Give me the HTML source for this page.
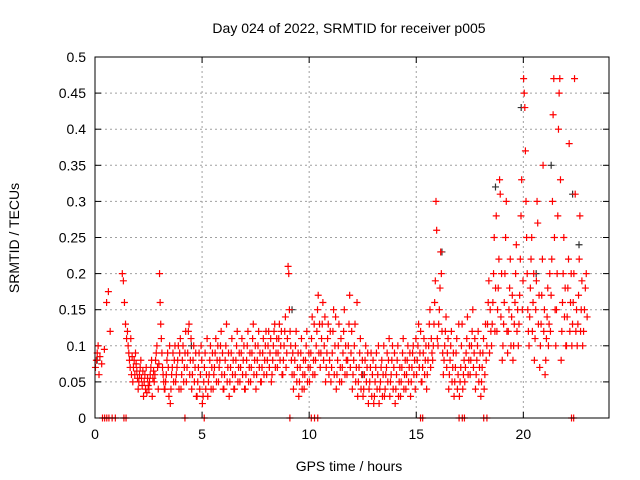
<!DOCTYPE html>
<html><head><meta charset="utf-8"><style>
body{margin:0;background:#fff;}
svg{display:block;font-family:"Liberation Sans",sans-serif;}
</style></head><body>
<svg id="chart" width="640" height="480">
<text x="349" y="33" text-anchor="middle" font-size="14">Day 024 of 2022, SRMTID for receiver p005</text>
<text x="349" y="471" text-anchor="middle" font-size="14">GPS time / hours</text>
<text transform="translate(19,238) rotate(-90)" text-anchor="middle" font-size="14">SRMTID / TECUs</text>
<g id="grid"></g><g id="ticks"></g><g id="marks"></g>
<rect x="95" y="57" width="514" height="361" fill="none" stroke="#000" stroke-width="1"/>
</svg>
<script>
const xTicks=[0,5,10,15,20];
const yTicks=[0,0.05,0.1,0.15,0.2,0.25,0.3,0.35,0.4,0.45,0.5];
const yTickLabels=["0","0.05","0.1","0.15","0.2","0.25","0.3","0.35","0.4","0.45","0.5"];
const binHours=[0,0.25,0.5,0.75,1,1.25,1.5,1.75,2,2.25,2.5,2.75,3,3.25,3.5,3.75,4,4.25,4.5,4.75,5,5.25,5.5,5.75,6,6.25,6.5,6.75,7,7.25,7.5,7.75,8,8.25,8.5,8.75,9,9.25,9.5,9.75,10,10.25,10.5,10.75,11,11.25,11.5,11.75,12,12.25,12.5,12.75,13,13.25,13.5,13.75,14,14.25,14.5,14.75,15,15.25,15.5,15.75,16,16.25,16.5,16.75,17,17.25,17.5,17.75,18,18.25,18.5,18.75,19,19.25,19.5,19.75,20,20.25,20.5,20.75,21,21.25,21.5,21.75,22,22.25,22.5,22.75];
const binValues=[
[0.07,0.08,0.09,0.1,0.06,0.085],[0.075,0.095],[0.16,0.175,0.12],[],[],
[0.2,0.19,0.16,0.13,0.11],[0.12,0.1,0.09,0.08,0.07,0.11,0.06,0.085],[0.05,0.07,0.08,0.06,0.09,0.075,0.065,0.055],
[0.04,0.05,0.06,0.07,0.08,0.055,0.045,0.065],[0.03,0.05,0.06,0.04,0.07,0.035,0.055,0.045],[0.04,0.05,0.06,0.07,0.08,0.03,0.055,0.065],
[0.05,0.06,0.08,0.09,0.1,0.07,0.04,0.075],[0.2,0.16,0.13,0.11,0.09,0.07,0.06,0.05,0.04],[0.04,0.05,0.06,0.08,0.09,0.07,0.03,0.1],
[0.02,0.04,0.06,0.07,0.09,0.05,0.08,0.1],[0.05,0.06,0.07,0.08,0.1,0.04,0.09,0.11],[0.04,0.06,0.08,0.1,0.05,0.07,0.09,0.12],
[0.05,0.07,0.09,0.12,0.13,0.06,0.08,0.11],[0.04,0.06,0.08,0.1,0.05,0.07,0.09,0.03],[0.03,0.05,0.07,0.09,0.04,0.06,0.1,0.08],
[0.02,0.03,0.05,0.07,0.09,0.04,0.06,0.11],[0.03,0.05,0.06,0.08,0.1,0.04,0.07,0.09],[0.04,0.06,0.07,0.09,0.11,0.05,0.08,0.1],
[0.05,0.07,0.08,0.1,0.12,0.06,0.09,0.04],[0.04,0.06,0.08,0.1,0.13,0.05,0.07,0.09],[0.03,0.05,0.07,0.09,0.11,0.06,0.08,0.04],
[0.04,0.06,0.08,0.1,0.12,0.05,0.07,0.09],[0.05,0.07,0.09,0.11,0.06,0.08,0.1,0.04],[0.04,0.06,0.08,0.1,0.12,0.05,0.07,0.09],
[0.05,0.07,0.09,0.11,0.13,0.06,0.08,0.1],[0.04,0.06,0.08,0.1,0.12,0.07,0.09,0.05],[0.05,0.07,0.09,0.11,0.06,0.08,0.1,0.12],
[0.06,0.08,0.1,0.12,0.07,0.09,0.11,0.05],[0.06,0.08,0.1,0.12,0.13,0.07,0.09,0.11],[0.07,0.09,0.11,0.13,0.08,0.1,0.12,0.06],
[0.06,0.08,0.1,0.12,0.14,0.07,0.09,0.11],[0.21,0.2,0.15,0.12,0.1,0.08,0.06,0.09],[0.04,0.06,0.08,0.1,0.12,0.05,0.07,0.09],
[0.03,0.05,0.07,0.09,0.11,0.04,0.06,0.08],[0.04,0.06,0.08,0.1,0.12,0.05,0.07,0.09],[0.05,0.07,0.09,0.11,0.14,0.06,0.08,0.13],
[0.06,0.08,0.1,0.12,0.15,0.17,0.09,0.13],[0.07,0.09,0.11,0.13,0.16,0.08,0.1,0.14],[0.05,0.07,0.09,0.11,0.13,0.06,0.08,0.12],
[0.05,0.07,0.09,0.12,0.15,0.06,0.1,0.14],[0.04,0.06,0.08,0.1,0.13,0.05,0.07,0.11],[0.05,0.07,0.09,0.12,0.15,0.06,0.1,0.08],
[0.06,0.08,0.1,0.13,0.17,0.07,0.09,0.12],[0.04,0.06,0.08,0.1,0.13,0.05,0.07,0.16],[0.03,0.05,0.07,0.09,0.11,0.04,0.06,0.08],
[0.03,0.04,0.06,0.08,0.1,0.05,0.07,0.09],[0.02,0.04,0.05,0.07,0.09,0.03,0.06,0.08],[0.02,0.03,0.05,0.07,0.09,0.04,0.06,0.1],
[0.02,0.04,0.05,0.07,0.08,0.03,0.06,0.1],[0.03,0.04,0.06,0.07,0.09,0.05,0.08,0.11],[0.03,0.05,0.06,0.08,0.1,0.04,0.07,0.09],
[0.02,0.04,0.06,0.08,0.1,0.03,0.05,0.07],[0.03,0.05,0.07,0.09,0.11,0.04,0.06,0.08],[0.04,0.06,0.08,0.1,0.05,0.07,0.09,0.03],
[0.05,0.07,0.09,0.1,0.06,0.08,0.04,0.11],[0.06,0.08,0.1,0.13,0.07,0.09,0.12,0.05],[0.05,0.07,0.09,0.11,0.06,0.08,0.1,0.04],
[0.06,0.08,0.1,0.13,0.15,0.07,0.11,0.09],[0.08,0.1,0.13,0.16,0.19,0.3,0.26,0.11],[0.1,0.13,0.15,0.18,0.23,0.2,0.12,0.09],
[0.06,0.08,0.1,0.12,0.14,0.07,0.09,0.11],[0.04,0.06,0.08,0.1,0.12,0.05,0.07,0.09],[0.03,0.05,0.07,0.09,0.11,0.04,0.06,0.13],
[0.03,0.05,0.07,0.1,0.13,0.04,0.06,0.08],[0.05,0.07,0.09,0.11,0.14,0.06,0.08,0.1],[0.06,0.08,0.1,0.12,0.15,0.07,0.09,0.11],
[0.04,0.06,0.08,0.1,0.12,0.05,0.07,0.09],[0.03,0.05,0.07,0.09,0.11,0.04,0.06,0.13],[0.08,0.1,0.13,0.16,0.19,0.09,0.15,0.12],
[0.1,0.13,0.16,0.2,0.25,0.12,0.18,0.28],[0.12,0.15,0.18,0.22,0.33,0.31,0.14,0.2],[0.08,0.1,0.13,0.16,0.2,0.25,0.3,0.12],
[0.09,0.12,0.15,0.18,0.22,0.1,0.14,0.17],[0.08,0.1,0.13,0.16,0.2,0.24,0.12,0.15],[0.1,0.13,0.17,0.22,0.28,0.33,0.15,0.19],
[0.47,0.45,0.43,0.37,0.3,0.25,0.2,0.15,0.12],[0.1,0.14,0.18,0.22,0.25,0.12,0.16,0.2],[0.08,0.11,0.15,0.19,0.3,0.27,0.13,0.17],
[0.07,0.1,0.13,0.17,0.22,0.35,0.12,0.15],[0.06,0.08,0.11,0.14,0.18,0.1,0.13,0.2],[0.12,0.17,0.22,0.3,0.42,0.47,0.25,0.15],
[0.1,0.15,0.2,0.28,0.4,0.45,0.47,0.33],[0.08,0.12,0.16,0.2,0.25,0.14,0.18,0.1],[0.1,0.14,0.18,0.22,0.38,0.12,0.16,0.2],
[0.1,0.13,0.16,0.2,0.47,0.31,0.12,0.15],[0.1,0.13,0.17,0.22,0.28,0.12,0.15,0.19],[0.1,0.12,0.15,0.18,0.2,0.14]
];
const zeroHours=[0.35,0.45,0.55,0.65,0.8,0.95,1.35,1.45,4.2,5.1,9.1,10.1,10.25,10.4,15.2,15.3,17.0,17.15,17.25,18.15,18.3,22.25,22.35];
const grayHours=[0.1,4.5,9.2,12.5,16.2,18.7,19.9,20.6,21.3,22.3,22.6];
const grayValues=[0.08,0.1,0.15,0.06,0.23,0.32,0.43,0.2,0.35,0.31,0.24];

const X0=95,X1=609,Y0=418,Y1=57,XMAX=24,YMAX=0.5;
const xs=h=>X0+h*(X1-X0)/XMAX;
const ys=v=>Y0-v*(Y0-Y1)/YMAX;
const NS="http://www.w3.org/2000/svg";
const grid=document.getElementById('grid'),ticks=document.getElementById('ticks'),marks=document.getElementById('marks');
function mk(tag,attrs,parent){const e=document.createElementNS(NS,tag);for(const k in attrs)e.setAttribute(k,attrs[k]);parent.appendChild(e);return e;}
yTicks.forEach((v,i)=>{
  const y=ys(v);
  if(i>0&&i<yTicks.length-1){const g=mk('line',{x1:X0,x2:X1,y1:y,y2:y,stroke:'#a0a0a0','stroke-dasharray':'2,3','stroke-width':1},grid);
  
  }
  mk('line',{x1:X0,x2:X0+6,y1:y,y2:y,stroke:'#000'},ticks);
  mk('line',{x1:X1,x2:X1-6,y1:y,y2:y,stroke:'#000'},ticks);
  const t=mk('text',{x:X0-9,y:y+5,'text-anchor':'end','font-size':14},ticks);t.textContent=yTickLabels[i];
  
  
});
xTicks.forEach(h=>{
  const x=xs(h);
  if(h>0){const g=mk('line',{x1:x,x2:x,y1:Y0,y2:Y1,stroke:'#a0a0a0','stroke-dasharray':'2,3'},grid);
  
  }
  mk('line',{x1:x,x2:x,y1:Y0,y2:Y0-6,stroke:'#000'},ticks);
  mk('line',{x1:x,x2:x,y1:Y1,y2:Y1+6,stroke:'#000'},ticks);
  const t=mk('text',{x:x,y:Y0+21,'text-anchor':'middle','font-size':14},ticks);t.textContent=String(h);
  
  
});
function cross(x,y,col,name){
  const p=mk('path',{d:`M${x-3.5},${y}H${x+3.5}M${x},${y-3.5}V${y+3.5}`,stroke:col,'stroke-width':1.2,fill:'none'},marks);
  
  
}
grayHours.forEach((h,i)=>cross(xs(h),ys(grayValues[i]),'#333','gray-point'));
binHours.forEach((h,bi)=>{
  const vals=binValues[bi];const n=vals.length;
  vals.forEach((v,i)=>cross(xs(h+(i+0.5)*0.25/n),ys(v),'#ff0000','srmtid-point'));
});
zeroHours.forEach(h=>cross(xs(h),ys(0),'#ff0000','zero-point'));
</script>
</body></html>
